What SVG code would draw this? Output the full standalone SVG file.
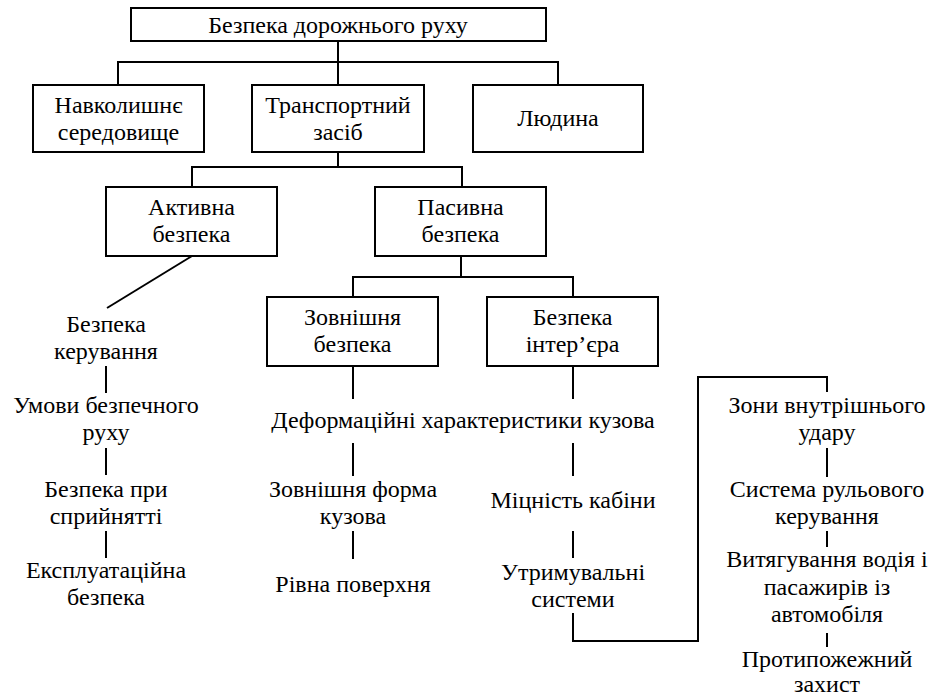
<svg xmlns="http://www.w3.org/2000/svg" width="932" height="697" viewBox="0 0 932 697">
  <rect width="932" height="697" fill="#fff"/>

  <!-- connectors: shared stroke set once on the group -->
  <g id="connectors" fill="none" stroke="#000" stroke-width="2">
    <path d="M338 41 V85 M118 85 V62 H558 V85"/>
    <path d="M338 152 V167 M192 187 V167 H462 V187"/>
    <path d="M192 256 L107 308"/>
    <path d="M106 366 V393 M106 448 V475 M106 531 V558"/>
    <path d="M461 256 V277 M353 297 V277 H573 V297"/>
    <path d="M353 366 V399 M353 443 V476 M353 531 V559"/>
    <path d="M573 366 V399 M573 443 V476 M573 531 V558"/>
    <path d="M573 613 V641 H698 V377 H827 V392"/>
    <path d="M827 448 V477 M827 531 V547 M827 633 V647"/>
  </g>

  <!-- boxes: shared outline set once on the group -->
  <g id="boxes" fill="#fff" stroke="#000" stroke-width="2">
    <rect id="box-road-safety" x="131" y="8" width="415" height="33"/>
    <rect id="box-environment" x="33" y="85" width="171" height="67"/>
    <rect id="box-vehicle" x="252" y="85" width="172" height="67"/>
    <rect id="box-human" x="473" y="85" width="170" height="67"/>
    <rect id="box-active" x="106" y="187" width="171" height="69"/>
    <rect id="box-passive" x="375" y="187" width="171" height="69"/>
    <rect id="box-external" x="267" y="297" width="171" height="69"/>
    <rect id="box-interior" x="487" y="297" width="171" height="69"/>
  </g>

  <!-- labels -->
  <g font-size="24" text-anchor="middle" fill="#000">
  <g id="road-safety">
    <text font-family="Liberation Serif" x="338" y="33">Безпека дорожнього руху</text>
  </g>
  <g id="environment">
    <text font-family="Liberation Serif" x="118.5" y="113">Навколишнє</text>
    <text font-family="Liberation Serif" x="118.5" y="140">середовище</text>
  </g>
  <g id="vehicle">
    <text font-family="Liberation Serif" x="338" y="113">Транспортний</text>
    <text font-family="Liberation Serif" x="338" y="140">засіб</text>
  </g>
  <g id="human">
    <text font-family="Liberation Serif" x="558" y="126">Людина</text>
  </g>
  <g id="active-safety">
    <text font-family="Liberation Serif" x="191.5" y="215">Активна</text>
    <text font-family="Liberation Serif" x="191.5" y="242">безпека</text>
  </g>
  <g id="passive-safety">
    <text font-family="Liberation Serif" x="460.5" y="215">Пасивна</text>
    <text font-family="Liberation Serif" x="460.5" y="242">безпека</text>
  </g>
  <g id="external-safety">
    <text font-family="Liberation Serif" x="352.5" y="325">Зовнішня</text>
    <text font-family="Liberation Serif" x="352.5" y="352">безпека</text>
  </g>
  <g id="interior-safety">
    <text font-family="Liberation Serif" x="572.5" y="325">Безпека</text>
    <text font-family="Liberation Serif" x="572.5" y="352">інтер’єра</text>
  </g>

  <!-- active safety chain -->
  <g id="control-safety">
    <text font-family="Liberation Serif" x="106" y="332">Безпека</text>
    <text font-family="Liberation Serif" x="106" y="359">керування</text>
  </g>
  <g id="safe-driving-conditions">
    <text font-family="Liberation Serif" x="106" y="413">Умови безпечного</text>
    <text font-family="Liberation Serif" x="106" y="440">руху</text>
  </g>
  <g id="perception-safety">
    <text font-family="Liberation Serif" x="106" y="497">Безпека при</text>
    <text font-family="Liberation Serif" x="106" y="524">сприйнятті</text>
  </g>
  <g id="operational-safety">
    <text font-family="Liberation Serif" x="106" y="578">Експлуатаційна</text>
    <text font-family="Liberation Serif" x="106" y="605">безпека</text>
  </g>

  <!-- external safety chain -->
  <g id="body-deformation">
    <text font-family="Liberation Serif" x="463" y="428">Деформаційні характеристики кузова</text>
  </g>
  <g id="body-shape">
    <text font-family="Liberation Serif" x="353" y="497">Зовнішня форма</text>
    <text font-family="Liberation Serif" x="353" y="524">кузова</text>
  </g>
  <g id="smooth-surface">
    <text font-family="Liberation Serif" x="353" y="592">Рівна поверхня</text>
  </g>

  <!-- interior safety chain -->
  <g id="cabin-strength">
    <text font-family="Liberation Serif" x="573" y="508">Міцність кабіни</text>
  </g>
  <g id="restraint-systems">
    <text font-family="Liberation Serif" x="573" y="580">Утримувальні</text>
    <text font-family="Liberation Serif" x="573" y="607">системи</text>
  </g>
  <g id="impact-zones">
    <text font-family="Liberation Serif" x="827" y="413">Зони внутрішнього</text>
    <text font-family="Liberation Serif" x="827" y="440">удару</text>
  </g>
  <g id="steering-system">
    <text font-family="Liberation Serif" x="827" y="497">Система рульового</text>
    <text font-family="Liberation Serif" x="827" y="524">керування</text>
  </g>
  <g id="evacuation">
    <text font-family="Liberation Serif" x="827" y="567">Витягування водія і</text>
    <text font-family="Liberation Serif" x="827" y="595">пасажирів із</text>
    <text font-family="Liberation Serif" x="827" y="622">автомобіля</text>
  </g>
  <g id="fire-protection">
    <text font-family="Liberation Serif" x="827" y="667">Протипожежний</text>
    <text font-family="Liberation Serif" x="827" y="692">захист</text>
  </g>
  </g>
</svg>
